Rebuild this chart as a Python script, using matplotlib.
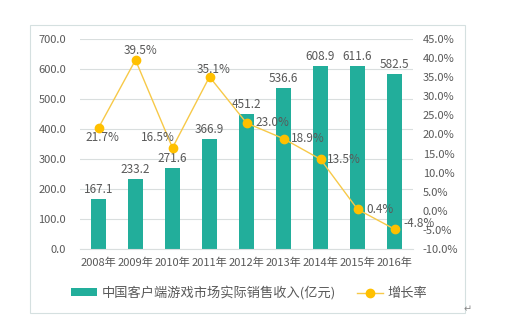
import matplotlib
matplotlib.use("Agg")
import matplotlib.pyplot as plt
from matplotlib.patches import Rectangle
from matplotlib.lines import Line2D
from matplotlib.patches import Patch

plt.rcParams['font.family'] = ['Noto Sans CJK SC', 'DejaVu Sans']

years = ["2008年", "2009年", "2010年", "2011年", "2012年", "2013年", "2014年", "2015年", "2016年"]
revenue = [167.1, 233.2, 271.6, 366.9, 451.2, 536.6, 608.9, 611.6, 582.5]
growth = [21.7, 39.5, 16.5, 35.1, 23.0, 18.9, 13.5, 0.4, -4.8]
bar_name = "中国客户端游戏市场实际销售收入(亿元)"
line_name = "增长率"

# label offsets (pixels) for growth labels
growth_offsets = [(4, -10), (5, 10), (-15, 10), (4, 7), (26, 0), (24, 0), (23, 0), (22, 0), (25, 6)]

TEAL = "#22AE9B"
YEL = "#FFC000"
LINEC = "#F7C948"
TXT = "#595959"
GRID = "#D9DEDE"

fig = plt.figure(figsize=(5.05, 3.24), dpi=100)
# outer frame
fig.patches.append(Rectangle((30/505, 1-313/324), 435/505, 288/324, transform=fig.transFigure,
                             fill=False, edgecolor="#D5E0E0", linewidth=0.8))
fig.text(468/505, 1-309/324, "↵", fontsize=7, color="#888888", ha="center", va="center",
         family=['DejaVu Sans'])

ax = fig.add_axes([80/505, 1-249/324, 333/505, 210/324])
x = list(range(len(years)))
ax.bar(x, revenue, width=0.4, color=TEAL, zorder=2)
ax.set_xlim(-0.5, len(years)-0.5)
ax.set_ylim(0, 700)
ax.set_yticks(range(0, 701, 100))
ax.set_yticklabels([f"{v:.1f}" for v in range(0, 701, 100)])
ax.set_xticks(x)
ax.set_xticklabels(years)
ax.grid(axis='y', color=GRID, linewidth=0.8, zorder=0)
ax.set_axisbelow(True)
for s in ['top', 'right', 'left']:
    ax.spines[s].set_visible(False)
ax.spines['bottom'].set_color(GRID)
ax.tick_params(axis='y', length=0, pad=10, labelsize=8, labelcolor=TXT)
ax.tick_params(axis='x', length=0, pad=6, labelsize=8, labelcolor=TXT)
for xi, v in zip(x, revenue):
    ax.annotate(f"{v:.1f}", (xi, v), xytext=(0, 3), textcoords='offset pixels',
                ha='center', va='bottom', fontsize=8.5, color=TXT, zorder=3)

ax2 = ax.twinx()
ax2.set_ylim(-10, 45)
ax2.set_yticks(range(-10, 46, 5))
ax2.set_yticklabels([f"{v:.1f}%" for v in range(-10, 46, 5)])
for s in ax2.spines.values():
    s.set_visible(False)
ax2.tick_params(axis='y', length=0, pad=7, labelsize=8, labelcolor=TXT)
ax2.plot(x, growth, color=LINEC, linewidth=1.0, marker='o', markersize=6,
         markerfacecolor=YEL, markeredgecolor=YEL, zorder=4)
for xi, g, (dx, dy) in zip(x, growth, growth_offsets):
    ax2.annotate(f"{g:.1f}%", (xi, g), xytext=(dx, dy), textcoords='offset pixels',
                 ha='center', va='center', fontsize=8.5, color=TXT, zorder=5)

handles = [Patch(facecolor=TEAL, edgecolor='none'),
           Line2D([0], [0], color=LINEC, linewidth=1.0, marker='o', markersize=6,
                  markerfacecolor=YEL, markeredgecolor=YEL)]
fig.legend(handles, [bar_name, line_name], loc='center', bbox_to_anchor=(249/505, 1-293/324),
           ncol=2, frameon=False, fontsize=9.5, handlelength=2.0, handleheight=0.55,
           handletextpad=0.3, columnspacing=1.6, labelcolor=TXT)

fig.savefig("out.png", dpi=100)
